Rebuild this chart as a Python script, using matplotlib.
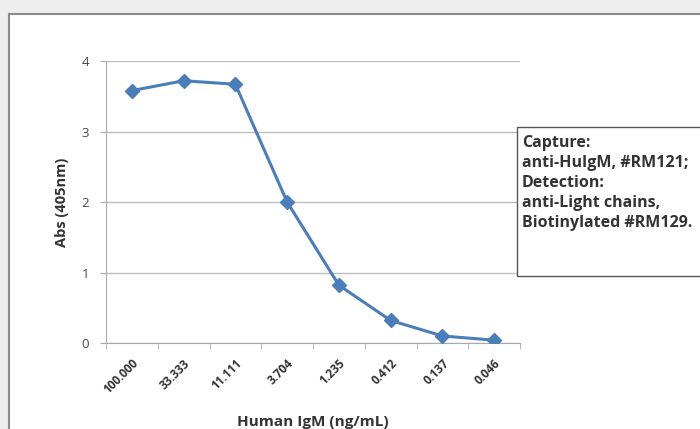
import matplotlib.pyplot as plt
from matplotlib.patches import Rectangle

concentrations = ['100.000', '33.333', '11.111', '3.704', '1.235', '0.412', '0.137', '0.046']
absorbance = [3.58, 3.72, 3.67, 2.00, 0.82, 0.32, 0.10, 0.04]
y_ticks = [0, 1, 2, 3, 4]
legend_text = 'Capture:\nanti-HuIgM, #RM121;\nDetection:\nanti-Light chains,\nBiotinylated #RM129.'

plt.rcParams['font.family'] = ['Open Sans', 'DejaVu Sans']

fig = plt.figure(figsize=(7, 4.29), dpi=100)
fig.patch.set_facecolor('#eeeeee')

# white chart panel with grey frame (runs off right and bottom edges)
panel = Rectangle((9 / 700, -0.05), 1.0, 1 - 14 / 429 + 0.05, transform=fig.transFigure,
                  facecolor='white', edgecolor='#8a8a8a', linewidth=1.5, zorder=-5)
fig.patches.append(panel)

ax = fig.add_axes([106 / 700, 1 - 343 / 429, 414 / 700, 282 / 429])
ax.set_zorder(1)
ax.set_facecolor('white')
x = list(range(len(concentrations)))
ax.plot(x, absorbance, color='#4a7ebb', linewidth=2.2, marker='D', markersize=7,
        markerfacecolor='#4a7ebb', markeredgecolor='#4a7ebb', zorder=3)

ax.set_xlim(-0.5, len(concentrations) - 0.5)
ax.set_ylim(0, 4)
ax.set_yticks(y_ticks)
ax.set_yticklabels([str(v) for v in y_ticks], fontsize=9.5, color='#444444')
ax.set_xticks(x)
ax.set_xticklabels(concentrations, rotation=45, ha='right', rotation_mode='anchor',
                   fontsize=8.5, fontweight='bold', color='#333333')
ax.tick_params(axis='x', length=0, pad=10)
ax.set_xticks([i + 0.5 for i in range(-1, len(concentrations))], minor=True)
ax.tick_params(axis='x', which='minor', length=4, color='#aaaaaa')
ax.tick_params(axis='y', length=4, color='#aaaaaa', pad=8)
ax.grid(axis='y', color='#bdbdbd', linewidth=1)
ax.set_axisbelow(True)
for side in ['top', 'right']:
    ax.spines[side].set_visible(False)
ax.spines['left'].set_color('#aaaaaa')
ax.spines['bottom'].set_color('#aaaaaa')

ax.set_xlabel('Human IgM (ng/mL)', fontsize=11, fontweight='bold', color='#333333', labelpad=13)
ax.set_ylabel('Abs (405nm)', fontsize=10.5, fontweight='bold', color='#333333', labelpad=9)

# legend-like text box
box = Rectangle((517 / 700, 1 - 276 / 429), 0.3, 149 / 429, transform=fig.transFigure,
                facecolor='white', edgecolor='#555555', linewidth=1, zorder=5)
fig.patches.append(box)
fig.text(522 / 700, 1 - 135 / 429, legend_text, fontsize=11.5, fontweight='bold',
         color='#333333', va='top', ha='left', linespacing=1.33, zorder=6)

fig.savefig('out.png', dpi=100)
